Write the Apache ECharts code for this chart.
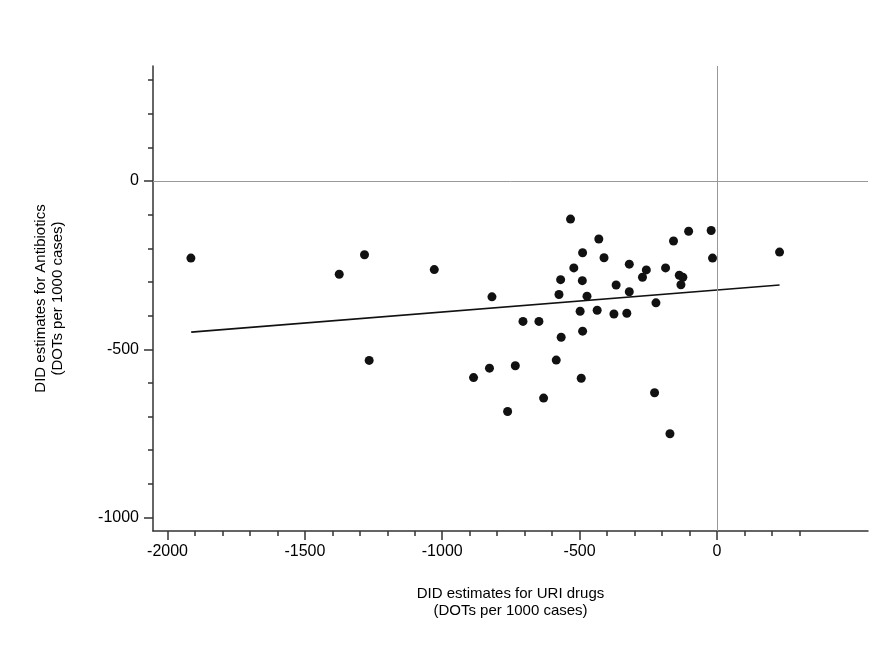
<!DOCTYPE html>
<html>
<head>
<meta charset="utf-8">
<script src="https://cdn.jsdelivr.net/npm/echarts@6/dist/echarts.min.js"></script>
<style>html,body{margin:0;padding:0;background:#fff}#c{width:890px;height:645px}</style>
</head>
<body>
<div id="c"></div>
<script>
// Scatter points: DID estimates for URI drugs (x) vs Antibiotics (y)
var xValues = [-1915,-1375,-1283,-1029,-1266,
  -533,-430,-489,-411,-521,-569,-490,-575,-473,-367,-319,-319,-257,-271,-187,-158,-103,-21,-16,-137,-124,-131,-222,228,
  -819,-498,-436,-375,-328,-706,-648,-567,-489,-886,-828,-734,-585,-494,-631,-762,-227,-171];
var yValues = [-229,-277,-219,-263,-533,
  -113,-172,-213,-228,-258,-293,-296,-337,-342,-309,-247,-329,-264,-286,-258,-178,-149,-147,-229,-280,-286,-308,-362,-211,
  -344,-387,-384,-395,-393,-417,-417,-464,-446,-584,-556,-549,-532,-586,-645,-685,-629,-751];
// Fitted line endpoints
var fitX = [-1914, 228];
var fitY = [-449, -309];
// Axis ticks
var xMajorTicks = [-2000,-1500,-1000,-500,0];
var xMinorTicks = [-2000,-1900,-1800,-1700,-1600,-1500,-1400,-1300,-1200,-1100,-1000,-900,-800,-700,-600,-500,-400,-300,-200,-100,0,100,200,300];
var yMajorTicks = [-1000,-500,0];
var yMinorTicks = [-1000,-900,-800,-700,-600,-500,-400,-300,-200,-100,0,100,200,300];
var xTitle = 'DID estimates for URI drugs\n(DOTs per 1000 cases)';
var yTitle = 'DID estimates for Antibiotics\n(DOTs per 1000 cases)';

var XMIN = -2053, XMAX = 550, YMIN = -1040, YMAX = 342;
var font = 'Liberation Sans, Arial, Helvetica, sans-serif';
var axisColor = '#333';
function plain(v){ return String(v); }

var points = xValues.map(function(v,i){return [v, yValues[i]];});
var fit = fitX.map(function(v,i){return [v, fitY[i]];});

var chart = echarts.init(document.getElementById('c'), null, {renderer:'canvas'});
chart.setOption({
  animation:false,
  backgroundColor:'#fff',
  grid:{left:153, right:22, top:66, bottom:114, containLabel:false},
  xAxis:[{
    type:'value', position:'bottom', min:XMIN, max:XMAX,
    axisLine:{show:true, onZero:false, lineStyle:{color:axisColor, width:1.5}},
    axisTick:{show:true, length:9, customValues:xMajorTicks, lineStyle:{color:axisColor, width:1.5}},
    axisLabel:{show:true, customValues:xMajorTicks, formatter:plain, margin:13, color:'#000', fontSize:16, fontFamily:font},
    splitLine:{show:false},
    name:xTitle, nameLocation:'middle', nameGap:54,
    nameTextStyle:{color:'#000', fontSize:15, fontFamily:font, lineHeight:17, align:'center'}
  },{
    type:'value', position:'bottom', min:XMIN, max:XMAX,
    axisLine:{show:false, onZero:false},
    axisTick:{show:true, length:5, customValues:xMinorTicks, lineStyle:{color:axisColor, width:1.5}},
    axisLabel:{show:false},
    splitLine:{show:false}
  }],
  yAxis:[{
    type:'value', position:'left', min:YMIN, max:YMAX,
    axisLine:{show:true, onZero:false, lineStyle:{color:axisColor, width:1.5}},
    axisTick:{show:true, length:9, customValues:yMajorTicks, lineStyle:{color:axisColor, width:1.5}},
    axisLabel:{show:true, customValues:yMajorTicks, formatter:plain, margin:14, color:'#000', fontSize:16, fontFamily:font},
    splitLine:{show:false},
    name:yTitle, nameLocation:'middle', nameGap:87,
    nameTextStyle:{color:'#000', fontSize:15, fontFamily:font, lineHeight:17, align:'center'}
  },{
    type:'value', position:'left', min:YMIN, max:YMAX,
    axisLine:{show:false, onZero:false},
    axisTick:{show:true, length:5, customValues:yMinorTicks, lineStyle:{color:axisColor, width:1.5}},
    axisLabel:{show:false},
    splitLine:{show:false}
  }],
  series:[{
    type:'line', data:fit, xAxisIndex:0, yAxisIndex:0,
    symbol:'none', lineStyle:{color:'#111', width:1.6}, silent:true,
    markLine:{silent:true, symbol:'none', label:{show:false},
      lineStyle:{color:'#999', width:1, type:'solid'},
      data:[{xAxis:0},{yAxis:0}]}
  },{
    type:'scatter', data:points, xAxisIndex:0, yAxisIndex:0,
    symbol:'circle', symbolSize:9, itemStyle:{color:'#111', opacity:1}
  }]
});
</script>
</body>
</html>
